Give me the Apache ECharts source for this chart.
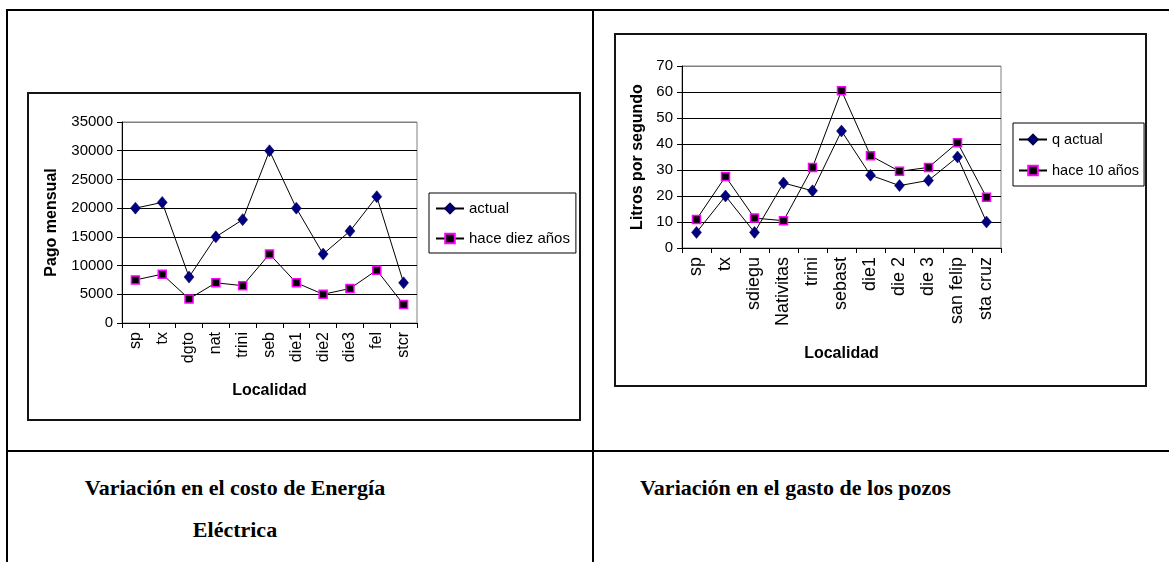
<!DOCTYPE html>
<html>
<head>
<meta charset="utf-8">
<script src="https://cdn.jsdelivr.net/npm/echarts@6.0.0/dist/echarts.min.js"></script>
<style>
  html, body { margin:0; padding:0; background:#fff; width:1169px; height:562px; overflow:hidden; }
  .ln { position:absolute; background:#000; }
  .box { position:absolute; box-sizing:border-box; border:2px solid #151515; }
  .cap { position:absolute; font-family:"Liberation Serif","Times New Roman",serif; font-weight:bold; font-size:22px; color:#000; line-height:42px; white-space:nowrap; }
  #chart { position:absolute; left:0; top:0; width:1169px; height:562px; }
</style>
</head>
<body>
<div class="ln" style="left:6px;top:9px;width:1163px;height:2px;"></div>
<div class="ln" style="left:6px;top:9px;width:2px;height:553px;"></div>
<div class="ln" style="left:592px;top:9px;width:2px;height:553px;"></div>
<div class="ln" style="left:6px;top:450px;width:1163px;height:2px;"></div>
<div class="box" style="left:27px;top:92px;width:554px;height:329px;"></div>
<div class="box" style="left:614px;top:33px;width:533px;height:354px;"></div>
<div class="cap" style="left:35px;top:467px;width:400px;text-align:center;">Variación en el costo de Energía<br>Eléctrica</div>
<div class="cap" style="left:640px;top:467px;">Variación en el gasto de los pozos</div>
<div id="chart"></div>
<script>
// ---- data ----
const catsEnergia = ['sp','tx','dgto','nat','trini','seb','die1','die2','die3','fel','stcr'];
const pagoActual = [20000,21000,8000,15000,18000,30000,20000,12000,16000,22000,7000];
const pagoHaceDiez = [7500,8500,4200,7000,6500,12000,7000,5000,6000,9200,3200];
const catsPozos = ['sp','tx','sdiegu','Nativitas','trini','sebast','die1','die 2','die 3','san felip','sta cruz'];
const qActual = [6,20,6,25,22,45,28,24,26,35,10];
const qHace10 = [11,27.5,11.5,10.5,31,60.5,35.5,29.5,31,40.5,19.5];
const seriesNamesEnergia = ['actual','hace diez años'];
const seriesNamesPozos = ['q actual','hace 10 años'];

const FONT = 'Liberation Sans, Arial, sans-serif';
const chart = echarts.init(document.getElementById('chart'), null, {renderer:'canvas'});

function gridLineColors(n){ const a=[]; for(let i=0;i<n;i++) a.push(i===n-1?'#808080':'#000'); return a; }

function xAx(gi, cats, gap, fs){
  return {
    gridIndex: gi, type:'category', data: cats, boundaryGap:true,
    axisLine:{show:true, lineStyle:{color:'#000', width:1}},
    axisTick:{show:true, length:5, lineStyle:{color:'#000'}},
    axisLabel:{rotate:90, interval:0, fontSize:fs, color:'#000', fontFamily:FONT, margin:9},
    splitLine:{show:false},
    name:'Localidad', nameLocation:'middle', nameGap:gap,
    nameTextStyle:{fontWeight:'bold', fontSize:16, color:'#000', fontFamily:FONT}
  };
}
function yAx(gi, max, interval, name, gap){
  const n = Math.round(max/interval)+1;
  return {
    gridIndex: gi, type:'value', min:0, max:max, interval:interval,
    axisLine:{show:true, lineStyle:{color:'#000', width:1}},
    axisTick:{show:true, length:5, lineStyle:{color:'#000'}},
    axisLabel:{fontSize:15, color:'#000', fontFamily:FONT, margin:9, formatter:(v)=>String(v)},
    splitLine:{show:true, lineStyle:{color:gridLineColors(n), width:1}},
    name:name, nameLocation:'middle', nameRotate:90, nameGap:gap,
    nameTextStyle:{fontWeight:'bold', fontSize:16, color:'#000', fontFamily:FONT}
  };
}
function diamondSeries(name, data, xi){
  return { type:'line', name:name, data:data, xAxisIndex:xi, yAxisIndex:xi,
    symbol:'diamond', symbolSize:[10,12], showAllSymbol:true,
    lineStyle:{color:'#000', width:1},
    itemStyle:{color:'#000080', borderColor:'#000050', borderWidth:0.5},
    emphasis:{disabled:true}, animation:false };
}
function squareSeries(name, data, xi){
  return { type:'line', name:name, data:data, xAxisIndex:xi, yAxisIndex:xi,
    symbol:'rect', symbolSize:8, showAllSymbol:true,
    lineStyle:{color:'#000', width:1},
    itemStyle:{color:'#000', borderColor:'#ff00ff', borderWidth:1.5},
    emphasis:{disabled:true}, animation:false };
}
function legend(names, left, top, pad, gap, fs){
  return { data:names, orient:'vertical', left:left, top:top,
    padding:pad, itemGap:gap, itemWidth:28, itemHeight:12,
    borderColor:'#000', borderWidth:1, backgroundColor:'#fff',
    textStyle:{fontSize:fs, color:'#000', fontFamily:FONT, lineHeight:15},
    selectedMode:false };
}

chart.setOption({
  animation:false,
  grid:[
    {left:122, top:122, width:295, height:201, show:true, borderColor:'#808080', borderWidth:1, backgroundColor:'transparent'},
    {left:682, top:66, width:319, height:182, show:true, borderColor:'#808080', borderWidth:1, backgroundColor:'transparent'}
  ],
  xAxis:[ xAx(0, catsEnergia, 60, 16), xAx(1, catsPozos, 98, 18) ],
  yAxis:[ yAx(0, 35000, 5000, 'Pago mensual', 62), yAx(1, 70, 10, 'Litros por segundo', 36) ],
  legend:[ legend(seriesNamesEnergia, 429, 193, [8,6,7,6], 15, 15), legend(seriesNamesPozos, 1013, 123, [9,5,8,5], 16, 14.5) ],
  series:[
    diamondSeries(seriesNamesEnergia[0], pagoActual, 0),
    squareSeries(seriesNamesEnergia[1], pagoHaceDiez, 0),
    diamondSeries(seriesNamesPozos[0], qActual, 1),
    squareSeries(seriesNamesPozos[1], qHace10, 1)
  ]
});
</script>
</body>
</html>
